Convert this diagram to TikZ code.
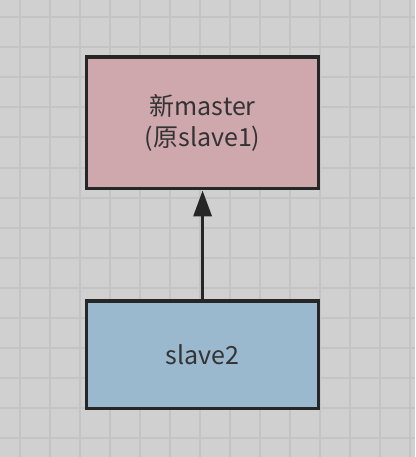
\documentclass[tikz,border=0pt]{standalone}
\usepackage{fontspec}
\setmainfont{Noto Sans CJK SC}
\usetikzlibrary{arrows.meta}
\definecolor{bg}{RGB}{208,208,208}
\definecolor{gridc}{RGB}{196,196,196}
\definecolor{pinkf}{RGB}{207,168,173}
\definecolor{bluef}{RGB}{154,184,206}
\definecolor{edge}{RGB}{38,38,38}
\definecolor{txt}{RGB}{51,51,51}
\tikzset{
  boxstyle/.style={draw=edge, line width=3.5pt, minimum width=232pt, inner sep=0pt,
    align=center, text=txt, font=\fontsize{25}{31}\selectfont},
  arrowstyle/.style={draw=edge, line width=3.5pt, -{Triangle[length=26pt,width=18pt]}}
}
\begin{document}
\begin{tikzpicture}[x=1pt,y=-1pt]
\fill[bg] (0,0) rectangle (415,457);
\useasboundingbox (0,0) rectangle (415,457);
\foreach \i in {0,...,13} {
  \draw[gridc, line width=2pt] (19.5+30*\i,0) -- (19.5+30*\i,457);
}
\foreach \j in {0,...,14} {
  \draw[gridc, line width=2pt] (0,17.5+30*\j) -- (415,17.5+30*\j);
}
\node[boxstyle, fill=pinkf, minimum height=131.7pt] (master) at (202.6,122.85) {新master\\(原slave1)};
\node[boxstyle, fill=bluef, minimum height=107.7pt] (slave) at (202.6,354.85) {slave2};
\draw[arrowstyle] (slave.north) -- (master.south);
\end{tikzpicture}
\end{document}
